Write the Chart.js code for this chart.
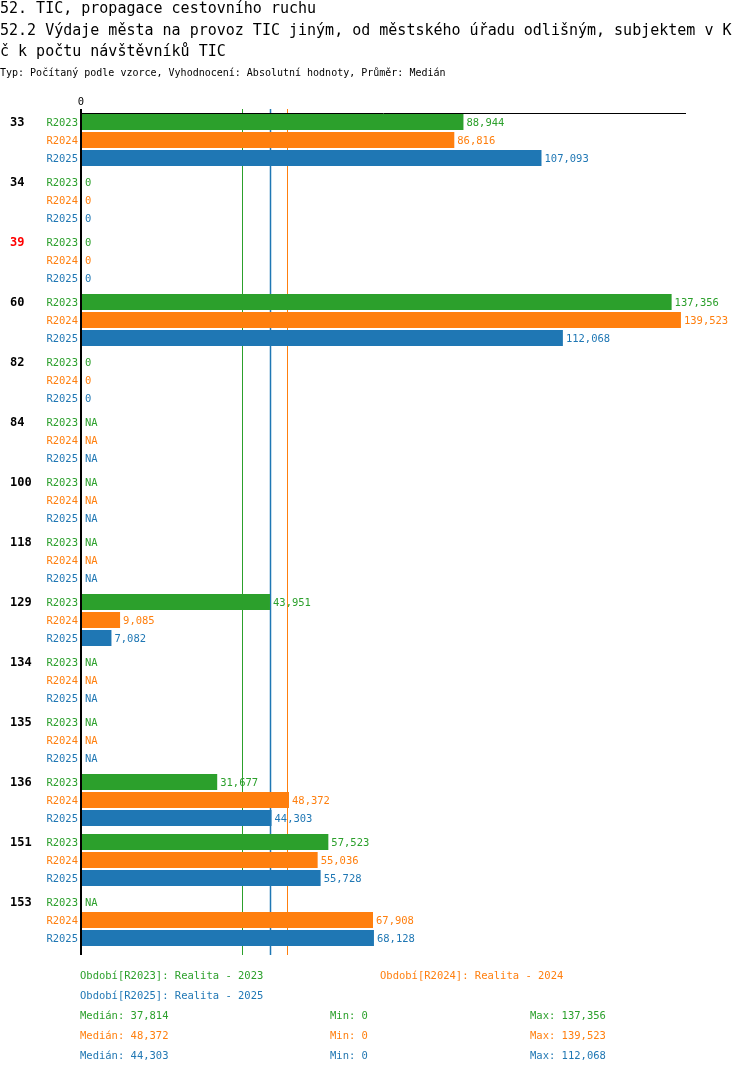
<!DOCTYPE html>
<html>
<head>
<meta charset="utf-8">
<script src="https://cdn.jsdelivr.net/npm/chart.js@4/dist/chart.umd.min.js"></script>
<style>
  body { margin: 0; background: #fff; }
  #wrap { position: relative; width: 750px; height: 1074px; overflow: hidden; font-family: "DejaVu Sans Mono", monospace; }
  #chart { position: absolute; left: 0; top: 0; }
  .t { position: absolute; white-space: nowrap; color: #000; }
  .title { font-size: 15px; line-height: 16px; left: 0; }
  .sub { font-size: 10px; line-height: 12px; left: 0; }
  .foot { font-size: 10.5px; line-height: 12px; }
</style>
</head>
<body>
<div id="wrap">
  <canvas id="chart" width="750" height="1074"></canvas>
  <div class="t title" style="top:0px">52. TIC, propagace cestovního ruchu</div>
  <div class="t title" style="top:22px">52.2 Výdaje města na provoz TIC jiným, od městského úřadu odlišným, subjektem v K</div>
  <div class="t title" style="top:43px">č k počtu návštěvníků TIC</div>
  <div class="t sub" style="top:67px">Typ: Počítaný podle vzorce, Vyhodnocení: Absolutní hodnoty, Průměr: Medián</div>
  <div id="footer"></div>
</div>
<script>
const categories = ["33", "34", "39", "60", "82", "84", "100", "118", "129", "134", "135", "136", "151", "153"];
const redCategories = ["39"];
const seriesNames = ["R2023", "R2024", "R2025"];
const periodNames = ["Realita - 2023", "Realita - 2024", "Realita - 2025"];
const seriesColors = ["#2ca02c", "#ff7f0e", "#1f77b4"];

const valuesR2023 = [88944, 0, 0, 137356, 0, null, null, null, 43951, null, null, 31677, 57523, null];
const valuesR2024 = [86816, 0, 0, 139523, 0, null, null, null, 9085, null, null, 48372, 55036, 67908];
const valuesR2025 = [107093, 0, 0, 112068, 0, null, null, null, 7082, null, null, 44303, 55728, 68128];

const medians = [37814, 48372, 44303];
const minimums = [0, 0, 0];
const maximums = [137356, 139523, 112068];

const xMax = 140700;
const font = '"DejaVu Sans Mono", monospace';

function fmt(v) {
  return v.toLocaleString("en-US");
}

// footer texts
const footer = document.getElementById("footer");
function addFoot(text, left, top, color) {
  const d = document.createElement("div");
  d.className = "t foot";
  d.style.left = left + "px";
  d.style.top = top + "px";
  d.style.color = color;
  d.textContent = text;
  footer.appendChild(d);
}
addFoot("Období[" + seriesNames[0] + "]: " + periodNames[0], 80, 969, seriesColors[0]);
addFoot("Období[" + seriesNames[1] + "]: " + periodNames[1], 380, 969, seriesColors[1]);
addFoot("Období[" + seriesNames[2] + "]: " + periodNames[2], 80, 989, seriesColors[2]);
for (let i = 0; i < 3; i++) {
  addFoot("Medián: " + fmt(medians[i]), 80, 1009 + i * 20, seriesColors[i]);
  addFoot("Min: " + fmt(minimums[i]), 330, 1009 + i * 20, seriesColors[i]);
  addFoot("Max: " + fmt(maximums[i]), 530, 1009 + i * 20, seriesColors[i]);
}

const medianLines = {
  id: "medianLines",
  beforeDatasetsDraw(chart) {
    const { ctx, chartArea, scales } = chart;
    ctx.save();
    medians.forEach((m, i) => {
      const x = Math.floor(scales.x.getPixelForValue(m)) - 0.5;
      ctx.strokeStyle = seriesColors[i];
      ctx.lineWidth = i === 2 ? 1.5 : 1;
      ctx.beginPath();
      ctx.moveTo(x, chartArea.top - 1);
      ctx.lineTo(x, chartArea.bottom + 5);
      ctx.stroke();
    });
    ctx.restore();
  },
};

const labelsPlugin = {
  id: "labelsPlugin",
  afterDatasetsDraw(chart) {
    const { ctx, chartArea, scales } = chart;
    const x0 = scales.x.getPixelForValue(0);
    const band = (scales.y.getPixelForValue(1) - scales.y.getPixelForValue(0)) * 0.9 / 3;
    ctx.save();
    ctx.textBaseline = "middle";

    chart.data.datasets.forEach((ds, s) => {
      const meta = chart.getDatasetMeta(s);
      ds.data.forEach((v, i) => {
        const el = meta.data[i];
        let y = el && isFinite(el.y) ? el.y : scales.y.getPixelForValue(i) + (s - 1) * band;
        // series name on the left
        ctx.font = "10.5px " + font;
        ctx.fillStyle = seriesColors[s];
        ctx.textAlign = "right";
        ctx.fillText(seriesNames[s], x0 - 3, y + 1);
        // value after bar
        ctx.textAlign = "left";
        let text, x;
        if (v === null) {
          text = "NA";
          x = x0 + 4;
        } else {
          text = fmt(v);
          x = scales.x.getPixelForValue(v) + (v === 0 ? 4 : 3);
        }
        ctx.fillText(text, x, y + 1);
        // category label
        if (s === 0) {
          ctx.font = "bold 12px " + font;
          ctx.fillStyle = redCategories.includes(categories[i]) ? "#ff0000" : "#000";
          ctx.fillText(categories[i], 10, y + 1);
        }
      });
    });

    // axes lines
    const firstTop = scales.y.getPixelForValue(0) - band * 1.5;
    ctx.strokeStyle = "#000";
    ctx.lineWidth = 1;
    ctx.beginPath();
    ctx.moveTo(x0, Math.round(firstTop) + 0.5);
    ctx.lineTo(chartArea.right, Math.round(firstTop) + 0.5);
    ctx.stroke();
    ctx.lineWidth = 2;
    ctx.beginPath();
    ctx.moveTo(x0, chartArea.top - 1);
    ctx.lineTo(x0, chartArea.bottom + 5);
    ctx.stroke();

    // zero tick label
    ctx.font = "10.5px " + font;
    ctx.fillStyle = "#000";
    ctx.textAlign = "center";
    ctx.fillText("0", x0, chartArea.top - 8);
    ctx.restore();
  },
};

const seriesValues = [valuesR2023, valuesR2024, valuesR2025];

new Chart(document.getElementById("chart"), {
  type: "bar",
  data: {
    labels: categories,
    datasets: seriesValues.map((vals, s) => ({
      label: seriesNames[s],
      data: vals,
      backgroundColor: seriesColors[s],
      borderWidth: 0,
      categoryPercentage: 0.9,
      barPercentage: 16 / 18,
    })),
  },
  options: {
    indexAxis: "y",
    responsive: false,
    animation: false,
    layout: {
      padding: { left: 81, right: 64, top: 110, bottom: 124 },
    },
    scales: {
      x: { display: false, min: 0, max: xMax },
      y: { display: false },
    },
    plugins: {
      legend: { display: false },
      tooltip: { enabled: false },
    },
  },
  plugins: [medianLines, labelsPlugin],
});
</script>
</body>
</html>
